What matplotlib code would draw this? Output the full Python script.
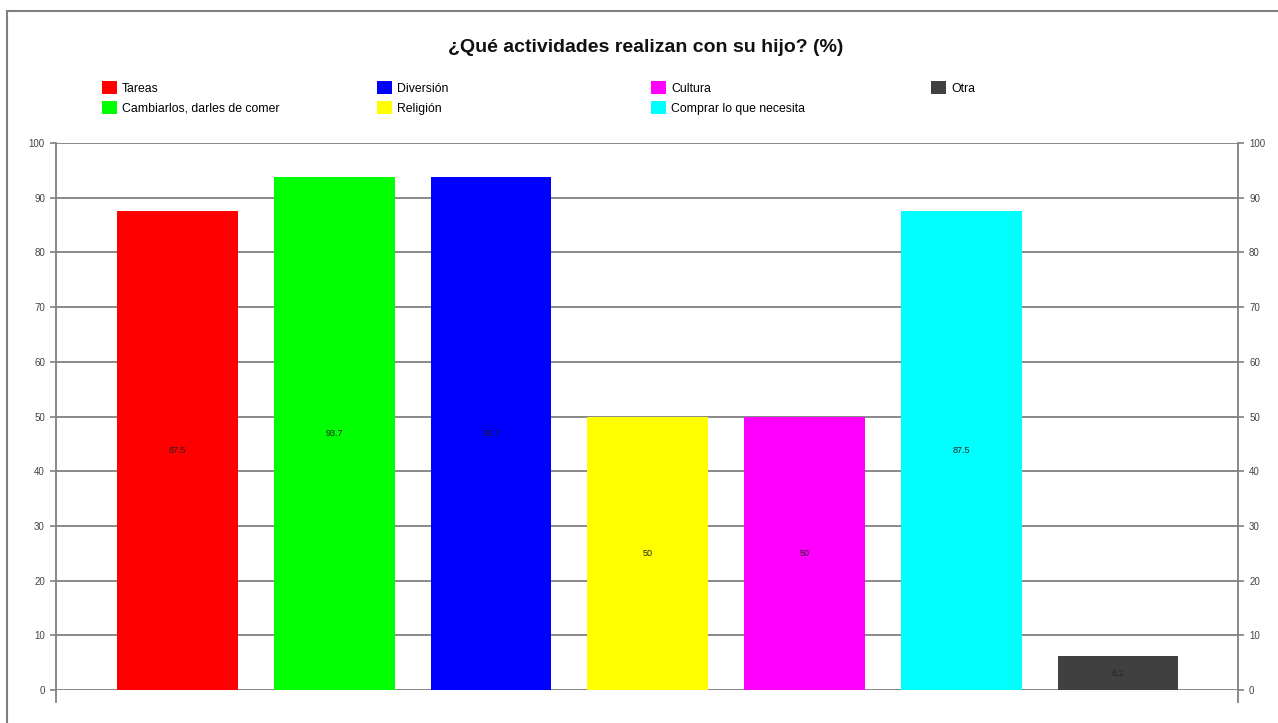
import matplotlib
matplotlib.use('Agg')
from matplotlib import pyplot as plt
from matplotlib.patches import Patch, Rectangle

plt.rcParams['font.family'] = ['Liberation Sans', 'DejaVu Sans']

title = '¿Qué actividades realizan con su hijo? (%)'
categories = ['Tareas', 'Cambiarlos, darles de comer', 'Diversión', 'Religión',
              'Cultura', 'Comprar lo que necesita', 'Otra']
values = [87.5, 93.7, 93.7, 50, 50, 87.5, 6.2]
value_labels = ['87.5', '93.7', '93.7', '50', '50', '87.5', '6.2']
colors = ['#ff0000', '#00ff00', '#0000ff', '#ffff00', '#ff00ff', '#00ffff', '#404040']
yticks = [0, 10, 20, 30, 40, 50, 60, 70, 80, 90, 100]

W, H = 1278, 723
fig = plt.figure(figsize=(W / 100, H / 100), dpi=100)
fig.patch.set_facecolor('white')

# outer frame
fig.patches.append(Rectangle((7 / W, -0.01), 1.0, 1 - 11 / H + 0.01, transform=fig.transFigure,
                             fill=False, edgecolor='#808080', linewidth=1.5))

ax = fig.add_axes([56 / W, 1 - 690 / H, (1238 - 56) / W, (690 - 143) / H])
x = list(range(len(values)))
bars = ax.bar(x, values, width=0.77, color=colors, zorder=3)
for b, lab in zip(bars, value_labels):
    ax.text(b.get_x() + b.get_width() / 2, b.get_height() / 2, lab,
            ha='center', va='center', fontsize=6.5, color='#222222', zorder=4)

ax.set_xlim(-0.775, 6.765)
ax.set_ylim(0, 100)
ax.set_yticks(yticks)
ax.set_xticks([])
ax.yaxis.grid(True, color='#808080', linewidth=1.3, zorder=0)
ax.tick_params(axis='y', which='both', left=True, right=True, labelleft=True, labelright=True,
               length=4, width=1.2, color='#808080', labelsize=7, labelcolor='#444444', pad=4)
for s in ['top', 'bottom']:
    ax.spines[s].set_visible(False)
for s in ['left', 'right']:
    ax.spines[s].set_color('#808080')
    ax.spines[s].set_linewidth(1.3)
    ax.spines[s].set_bounds(-2.2, 100)

fig.text(646 / W, 1 - 48 / H, title, ha='center', va='center', fontsize=14,
         fontweight='bold', color='#111111')

# legend: four evenly spaced columns, filled column by column
col_x = [102, 377, 651, 931]
handles = [Patch(facecolor=c, edgecolor='none') for c in colors]
for i, cx in enumerate(col_x):
    idx = [j for j in (2 * i, 2 * i + 1) if j < len(categories)]
    fig.legend([handles[j] for j in idx], [categories[j] for j in idx],
               loc='upper left', bbox_to_anchor=(cx / W, 1 - 81 / H), frameon=False,
               fontsize=8.8, handlelength=1.2, handleheight=1.3, handletextpad=0.45,
               labelspacing=0.5, borderpad=0, borderaxespad=0)

fig.savefig('out.png', dpi=100)
